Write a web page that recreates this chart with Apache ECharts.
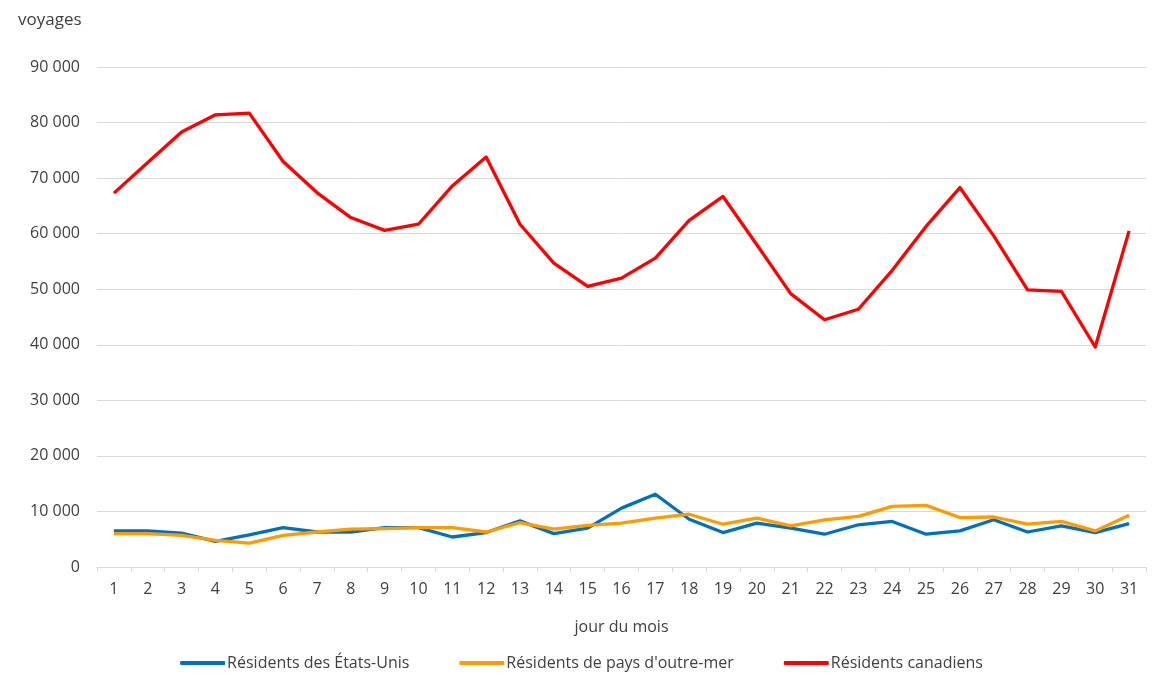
<!DOCTYPE html>
<html>
<head>
<meta charset="utf-8">
<script src="https://cdn.jsdelivr.net/npm/echarts@6/dist/echarts.min.js"></script>
<style>
html,body{margin:0;padding:0;background:#fff;}
#chart{width:1163px;height:674px;}
</style>
</head>
<body>
<div id="chart"></div>
<script>
const days = ['1','2','3','4','5','6','7','8','9','10','11','12','13','14','15','16','17','18','19','20','21','22','23','24','25','26','27','28','29','30','31'];
const usResidents = [6500,6500,6100,4600,5800,7100,6300,6300,7100,7100,5400,6200,8300,6000,7000,10600,13100,8600,6200,7900,7000,5900,7600,8200,5900,6500,8500,6300,7400,6200,7800];
const overseasResidents = [6000,6000,5700,4800,4300,5700,6300,6800,6900,7100,7100,6300,8000,6800,7500,7900,8800,9500,7700,8800,7400,8500,9100,10900,11100,8900,9000,7700,8200,6500,9300];
const canadianResidents = [67300,72800,78300,81400,81700,73000,67400,62900,60600,61700,68600,73800,61700,54700,50500,52000,55600,62400,66700,58000,49200,44500,46400,53400,61300,68300,59600,49900,49600,39600,60500];
const yTicks = {min:0, max:90000, interval:10000};
const seriesNames = ['Résidents des États-Unis','Résidents de pays d\'outre-mer','Résidents canadiens'];

const chart = echarts.init(document.getElementById('chart'), null, {renderer:'canvas'});
const font = '"Open Sans", "Noto Sans", sans-serif';
function fmt(v){ return String(v).replace(/\B(?=(\d{3})+(?!\d))/g, ' '); }
function mk(name, data, color){
  return {name:name, type:'line', data:data, symbol:'none', smooth:false,
    lineStyle:{color:color, width:3.3, join:'round'}, itemStyle:{color:color}};
}
chart.setOption({
  animation:false,
  textStyle:{fontFamily:font},
  graphic:[{type:'text', left:18, top:12, style:{text:'voyages', fill:'#404040', font:'17px ' + font}}],
  grid:{left:97, right:17, top:67, bottom:107, containLabel:false},
  xAxis:{type:'category', data:days, boundaryGap:true,
    name:'jour du mois', nameLocation:'middle', nameGap:52,
    nameTextStyle:{color:'#404040', fontSize:16, fontFamily:font},
    axisLine:{lineStyle:{color:'#d9d9d9', width:1}},
    axisTick:{show:true, length:5, lineStyle:{color:'#d9d9d9'}, alignWithLabel:false},
    axisLabel:{color:'#404040', fontSize:16, fontFamily:font, margin:14}},
  yAxis:{type:'value', min:yTicks.min, max:yTicks.max, interval:yTicks.interval,
    axisLine:{show:false}, axisTick:{show:false},
    splitLine:{lineStyle:{color:'#d9d9d9', width:1}},
    axisLabel:{color:'#404040', fontSize:16, fontFamily:font, margin:17, formatter:fmt}},
  legend:{bottom:0, left:'center', itemWidth:45, itemHeight:4, itemGap:50, padding:3,
    icon:'roundRect',
    textStyle:{color:'#404040', fontSize:16, fontFamily:font, padding:[0,0,0,-3]},
    data:seriesNames},
  series:[
    mk(seriesNames[0], usResidents, '#0070C0'),
    mk(seriesNames[1], overseasResidents, '#FF9A00'),
    mk(seriesNames[2], canadianResidents, '#FF0000')
  ]
});
</script>
</body>
</html>
